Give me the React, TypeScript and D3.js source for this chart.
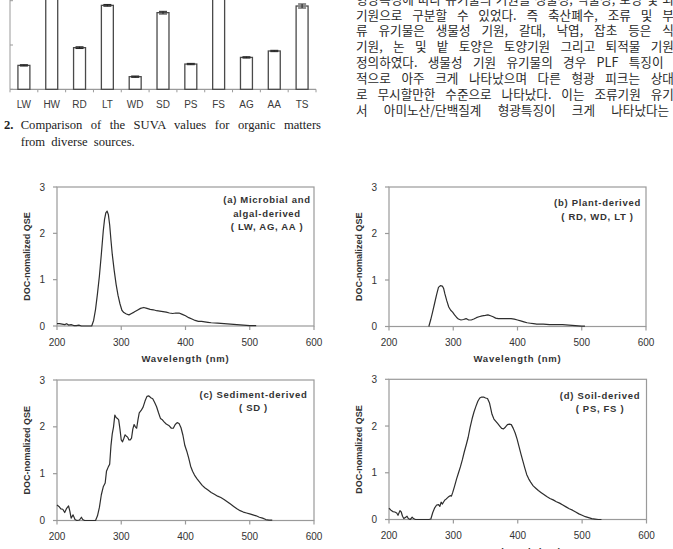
import React, { useLayoutEffect, useRef } from 'react';
import * as d3 from 'd3';

// ---- SUVA bar chart (Fig. 2) ----
const categories = ['LW', 'HW', 'RD', 'LT', 'WD', 'SD', 'PS', 'FS', 'AG', 'AA', 'TS'];
const suvaValues = [1.08, 5.2, 1.88, 3.79, 0.57, 3.46, 1.14, 5.0, 1.44, 1.73, 3.76];
const suvaErrors = [0.03, 0.05, 0.04, 0.04, 0.03, 0.06, 0.03, 0.05, 0.03, 0.03, 0.09];
const suvaTicks = [0, 2, 4];

// ---- DOC-normalized QSE spectra (Fig. 3) ----
const wavelengthTicks = [200, 300, 400, 500, 600];
const qseTicks = [0, 1, 2, 3];

const microbialSpectrum: [number, number][] = [
  [200, 0.05], [204, 0.05], [208, 0.04], [212, 0.03], [215, 0.05], [218, 0.02], [222, 0.03], [226, 0.01],
  [230, 0.01], [234, 0.02], [238, 0], [244, 0], [250, 0], [254, 0], [257, 0.12], [260, 0.36], [263, 0.7],
  [266, 1.08], [269, 1.55], [272, 2.05], [274, 2.3], [276, 2.44], [278, 2.48], [280, 2.4], [282, 2.18],
  [284, 1.85], [286, 1.55], [289, 1.2], [292, 0.9], [295, 0.66], [298, 0.48], [301, 0.34], [304, 0.29],
  [308, 0.26], [312, 0.24], [316, 0.27], [320, 0.3], [325, 0.34], [330, 0.38], [335, 0.4], [340, 0.38],
  [345, 0.36], [350, 0.35], [355, 0.33], [360, 0.32], [365, 0.31], [370, 0.3], [375, 0.28], [380, 0.27],
  [385, 0.28], [390, 0.28], [395, 0.25], [400, 0.22], [405, 0.18], [410, 0.15], [415, 0.12], [420, 0.1],
  [425, 0.1], [430, 0.09], [435, 0.08], [440, 0.07], [450, 0.06], [460, 0.05], [470, 0.04], [480, 0.03],
  [490, 0.02], [500, 0.01], [510, 0.01],
];

const plantSpectrum: [number, number][] = [
  [262, 0], [265, 0.15], [268, 0.32], [271, 0.5], [274, 0.68], [277, 0.84], [280, 0.88], [283, 0.87],
  [285, 0.82], [287, 0.7], [290, 0.55], [293, 0.42], [296, 0.35], [299, 0.31], [302, 0.25], [305, 0.2],
  [308, 0.16], [312, 0.14], [316, 0.15], [320, 0.17], [324, 0.14], [328, 0.14], [332, 0.16], [336, 0.19],
  [340, 0.21], [345, 0.23], [350, 0.24], [354, 0.25], [358, 0.23], [362, 0.21], [366, 0.18], [370, 0.17],
  [375, 0.17], [380, 0.17], [385, 0.17], [390, 0.17], [395, 0.16], [400, 0.14], [405, 0.12], [410, 0.1],
  [415, 0.08], [420, 0.07], [425, 0.06], [430, 0.05], [440, 0.05], [450, 0.04], [460, 0.04], [470, 0.04],
  [480, 0.03], [490, 0.02], [500, 0.01], [505, 0.01],
];

const sedimentSpectrum: [number, number][] = [
  [200, 0.33], [203, 0.3], [206, 0.25], [209, 0.24], [212, 0.17], [215, 0.26], [218, 0.31], [220, 0.2],
  [222, 0.05], [225, 0.12], [228, 0.02], [231, 0], [235, 0.01], [238, 0.07], [240, 0.02], [243, 0],
  [250, 0], [256, 0], [260, 0], [263, 0.1], [266, 0.28], [269, 0.55], [272, 0.72], [275, 0.8], [277, 1.05],
  [280, 1.15], [282, 1.2], [284, 1.6], [286, 1.85], [288, 2.0], [290, 2.25], [292, 2.2], [294, 2.18],
  [296, 2.15], [298, 1.95], [300, 1.72], [302, 1.68], [304, 1.75], [306, 1.83], [308, 1.8], [310, 1.78],
  [312, 1.72], [314, 1.72], [316, 1.76], [318, 1.95], [320, 2.05], [322, 2.0], [324, 1.97], [326, 2.15],
  [328, 2.3], [331, 2.35], [334, 2.42], [337, 2.55], [340, 2.65], [343, 2.66], [346, 2.62], [349, 2.6],
  [352, 2.52], [355, 2.43], [358, 2.3], [361, 2.18], [364, 2.15], [367, 2.1], [370, 2.06], [374, 2.03],
  [378, 1.97], [381, 1.97], [384, 2.05], [387, 2.09], [390, 2.07], [393, 1.98], [396, 1.82], [399, 1.6],
  [402, 1.48], [405, 1.33], [408, 1.16], [411, 1.05], [414, 0.97], [418, 0.89], [422, 0.82], [426, 0.75],
  [430, 0.7], [435, 0.65], [440, 0.6], [445, 0.56], [450, 0.52], [455, 0.49], [460, 0.45], [465, 0.4],
  [470, 0.35], [475, 0.3], [480, 0.25], [485, 0.21], [490, 0.18], [495, 0.16], [500, 0.14], [505, 0.12],
  [510, 0.1], [515, 0.07], [520, 0.05], [525, 0.02], [530, 0.01], [535, 0.01],
];

const soilSpectrum: [number, number][] = [
  [200, 0.24], [203, 0.2], [206, 0.17], [209, 0.16], [212, 0.14], [214, 0.09], [217, 0.19], [219, 0.16],
  [221, 0.07], [223, 0.02], [226, 0.05], [228, 0.07], [230, 0.02], [233, 0], [236, 0.05], [238, 0.02],
  [241, 0], [248, 0], [255, 0], [262, 0], [265, 0.01], [268, 0.15], [271, 0.25], [274, 0.31], [277, 0.32],
  [279, 0.28], [281, 0.37], [283, 0.33], [285, 0.38], [287, 0.42], [289, 0.44], [292, 0.48], [295, 0.51],
  [297, 0.5], [299, 0.58], [302, 0.72], [305, 0.87], [308, 1.0], [311, 1.13], [314, 1.28], [317, 1.45],
  [320, 1.6], [323, 1.76], [326, 1.97], [329, 2.15], [332, 2.3], [335, 2.42], [338, 2.53], [341, 2.6],
  [344, 2.62], [347, 2.62], [350, 2.6], [353, 2.59], [356, 2.5], [358, 2.38], [360, 2.25], [363, 2.15],
  [366, 2.1], [369, 2.05], [372, 2.0], [375, 1.95], [378, 1.94], [381, 1.98], [384, 2.03], [387, 2.04],
  [390, 2.03], [393, 1.95], [396, 1.85], [399, 1.72], [402, 1.56], [405, 1.4], [408, 1.25], [411, 1.1],
  [414, 0.96], [417, 0.87], [420, 0.8], [424, 0.72], [428, 0.67], [432, 0.62], [436, 0.58], [440, 0.54],
  [445, 0.49], [450, 0.45], [455, 0.42], [460, 0.38], [465, 0.35], [470, 0.31], [475, 0.27], [480, 0.23],
  [485, 0.2], [490, 0.16], [495, 0.12], [500, 0.09], [505, 0.06], [510, 0.04], [515, 0.02], [520, 0.01],
  [525, 0], [530, 0],
];

const panelLabels = [
  ['(a) Microbial and', 'algal-derived', '( LW, AG, AA )'],
  ['(b) Plant-derived', '( RD, WD, LT )'],
  ['(c) Sediment-derived', '( SD )'],
  ['(d) Soil-derived', '( PS, FS )'],
];

const captionLine1 = 'Comparison of the SUVA values for organic matters';
const captionLine2 = 'from diverse sources.';

const bodyLines = [
  '형광특성에 따라 유기물의 기원을 생물성, 식물성, 토양 및 퇴적물',
  '기원으로 구분할 수 있었다. 즉 축산폐수, 조류 및 부착조',
  '류 유기물은 생물성 기원, 갈대, 낙엽, 잡초 등은 식물성',
  '기원, 논 및 밭 토양은 토양기원 그리고 퇴적물 기원으로',
  '정의하였다. 생물성 기원 유기물의 경우 PLF 특징이 지배',
  '적으로 아주 크게 나타났으며 다른 형광 피크는 상대적으',
  '로 무시할만한 수준으로 나타났다. 이는 조류기원 유기물에',
  '서 아미노산/단백질계 형광특징이 크게 나타났다는 것',
];

const SANS = '"Liberation Sans", Arial, sans-serif';
const SERIF = '"Liberation Serif", "Times New Roman", serif';
const KOREAN = '"Noto Sans CJK KR", "Liberation Serif", serif';
const INK = '#333';
const FRAME = '#9a9a9a';

// Spreads the words of a line so that it fills the given width.
function JustifiedText(props: {
  x: number; y: number; width: number; text: string; style: React.CSSProperties;
}) {
  const { x, y, width, text, style } = props;
  const ref = useRef<SVGTextElement>(null);
  useLayoutEffect(() => {
    const el = ref.current;
    if (!el) return;
    el.style.wordSpacing = '0px';
    const natural = el.getComputedTextLength();
    const gaps = (text.match(/ /g) || []).length;
    if (gaps > 0) el.style.wordSpacing = `${(width - natural) / gaps}px`;
  }, [text, width]);
  return (
    <text ref={ref} x={x} y={y} dominantBaseline="central" style={style}>
      {text}
    </text>
  );
}

function SuvaBars() {
  const x = d3.scaleBand<string>().domain(categories).range([10, 316]).paddingInner(0.57).paddingOuter(0.285);
  const y = d3.scaleLinear().domain([0, 4]).range([89.3, 0.7]);
  const step = x.step();
  const bw = x.bandwidth();
  return (
    <g>
      <line x1={10} x2={10} y1={0} y2={y(0)} stroke={FRAME} strokeWidth={1} />
      {suvaTicks.map((t) => (
        <line key={t} x1={10} x2={13} y1={y(t)} y2={y(t)} stroke={FRAME} strokeWidth={1} />
      ))}
      <line x1={10} x2={316} y1={y(0)} y2={y(0)} stroke={FRAME} strokeWidth={1.2} />
      {categories.map((c, i) => (
        <line key={'t' + c} x1={10 + i * step} x2={10 + i * step} y1={y(0)} y2={y(0) + 3} stroke={FRAME} />
      ))}
      <line x1={316} x2={316} y1={y(0)} y2={y(0) + 3} stroke={FRAME} />
      {categories.map((c, i) => {
        const x0 = x(c)!;
        const cx = x0 + bw / 2;
        const v = suvaValues[i];
        const e = suvaErrors[i];
        return (
          <g key={c}>
            <rect x={x0} y={y(v)} width={bw} height={y(0) - y(v)} fill="#fff" stroke="#4a4a4a" strokeWidth={1.3} />
            <line x1={cx} x2={cx} y1={y(v + e)} y2={y(v - e)} stroke="#222" strokeWidth={1} />
            <line x1={cx - 4} x2={cx + 4} y1={y(v + e)} y2={y(v + e)} stroke="#222" strokeWidth={1} />
            <line x1={cx - 4} x2={cx + 4} y1={y(v - e)} y2={y(v - e)} stroke="#222" strokeWidth={1} />
            <text x={cx} y={104.3} textAnchor="middle" dominantBaseline="central"
              style={{ fontFamily: SANS, fontSize: 10, fill: '#3a3a3a' }}>
              {c}
            </text>
          </g>
        );
      })}
    </g>
  );
}

type PanelCfg = {
  left: number; right: number; top: number; bottom: number;
  data: [number, number][];
  labels: string[];
  labelDx: number; labelDy: number;
};

function SpectrumPanel({ cfg }: { cfg: PanelCfg }) {
  const { left, right, top, bottom, data, labels, labelDx, labelDy } = cfg;
  const x = d3.scaleLinear().domain([200, 600]).range([left, right]);
  const y = d3.scaleLinear().domain([0, 3]).range([bottom, top]);
  const path = d3.line<[number, number]>().x((d) => x(d[0])).y((d) => y(d[1]))(data) || '';
  const tickStyle: React.CSSProperties = { fontFamily: SANS, fontSize: 10, fill: INK };
  const boldStyle: React.CSSProperties = { fontFamily: SANS, fontSize: 9.5, fontWeight: 700, fill: INK, letterSpacing: 0.7 };
  return (
    <g>
      <rect x={left} y={top} width={right - left} height={bottom - top} fill="none" stroke={FRAME} strokeWidth={1.2} />
      {qseTicks.map((t) => (
        <g key={'y' + t}>
          <line x1={left - 4} x2={left} y1={y(t)} y2={y(t)} stroke={FRAME} strokeWidth={1.2} />
          <text x={left - 12} y={y(t)} textAnchor="end" dominantBaseline="central" style={tickStyle}>{t}</text>
        </g>
      ))}
      {wavelengthTicks.map((t) => (
        <g key={'x' + t}>
          <line x1={x(t)} x2={x(t)} y1={bottom} y2={bottom + 4} stroke={FRAME} strokeWidth={1.2} />
          <text x={x(t)} y={bottom + 16} textAnchor="middle" dominantBaseline="central" style={tickStyle}>{t}</text>
        </g>
      ))}
      <path d={path} fill="none" stroke="#2e2e2e" strokeWidth={1.2} strokeLinejoin="round" />
      <text x={(left + right) / 2} y={bottom + 32} textAnchor="middle" dominantBaseline="central"
        style={{ ...boldStyle, letterSpacing: 0.8 }}>
        Wavelength (nm)
      </text>
      <text transform={`translate(${left - 30},${(top + bottom) / 2}) rotate(-90)`} textAnchor="middle"
        dominantBaseline="central" style={{ ...boldStyle, fontSize: 9, letterSpacing: 0 }}>
        DOC-nomalized QSE
      </text>
      {labels.map((s, i) => (
        <text key={s} x={right - labelDx} y={top + labelDy + i * 13.6} textAnchor="middle"
          dominantBaseline="central" style={boldStyle}>
          {s}
        </text>
      ))}
    </g>
  );
}

const panels: PanelCfg[] = [
  { left: 57, right: 314, top: 187, bottom: 326, data: microbialSpectrum, labels: panelLabels[0], labelDx: 47, labelDy: 12.5 },
  { left: 389, right: 646, top: 187, bottom: 326.5, data: plantSpectrum, labels: panelLabels[1], labelDx: 48.5, labelDy: 15.7 },
  { left: 57, right: 314, top: 380, bottom: 520.5, data: sedimentSpectrum, labels: panelLabels[2], labelDx: 60.5, labelDy: 14 },
  { left: 389, right: 646.5, top: 379.3, bottom: 519.5, data: soilSpectrum, labels: panelLabels[3], labelDx: 46.5, labelDy: 15.8 },
];

export default function App() {
  const koreanStyle: React.CSSProperties = { fontFamily: KOREAN, fontSize: 12.6, fill: '#2a2a2a' };
  const captionStyle: React.CSSProperties = { fontFamily: SERIF, fontSize: 12.6, fill: '#222' };
  return (
    <svg width={673} height={549} viewBox="0 0 673 549"
      style={{ position: 'absolute', left: 0, top: 0, background: '#fff', display: 'block' }}>
      <rect x={0} y={0} width={673} height={549} fill="#fff" />
      <SuvaBars />
      <text x={4} y={125} dominantBaseline="central" style={{ ...captionStyle, fontWeight: 700 }}>2.</text>
      <JustifiedText x={20.7} y={125} width={300.3} text={captionLine1} style={captionStyle} />
      <text x={20.7} y={142} dominantBaseline="central" style={{ ...captionStyle, wordSpacing: 3 }}>
        {captionLine2}
      </text>
      {bodyLines.map((line, i) => (
        <JustifiedText key={i} x={356} y={-1.9 + i * 15.9} width={341} text={line} style={koreanStyle} />
      ))}
      {panels.map((p, i) => (
        <SpectrumPanel key={i} cfg={p} />
      ))}
    </svg>
  );
}
